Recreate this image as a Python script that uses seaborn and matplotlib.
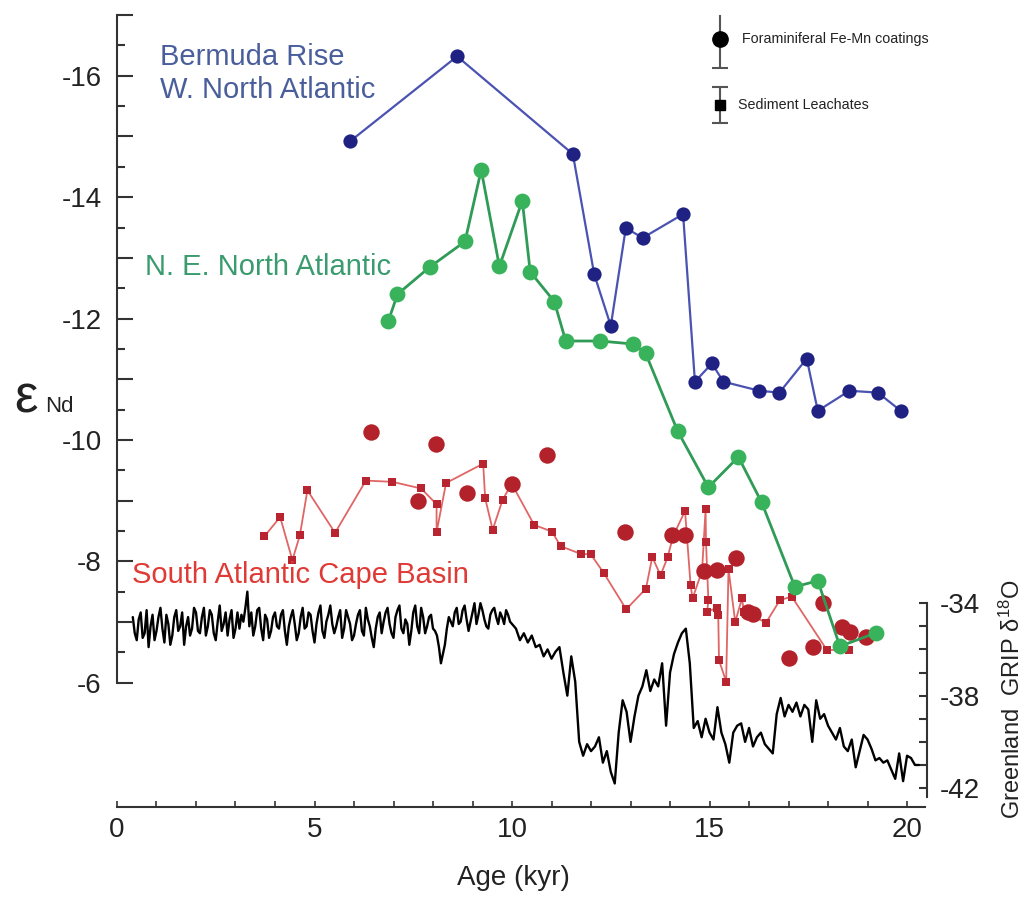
import numpy as np
import matplotlib
matplotlib.use("Agg")
import matplotlib.pyplot as plt
import seaborn as sns

# ---------------- data ----------------
bermuda_age = [5.90, 8.61, 11.54, 12.08, 12.50, 12.88, 13.31, 14.33, 14.63, 15.06,
               15.35, 16.26, 16.77, 17.46, 17.74, 18.54, 19.26, 19.84]
bermuda_end = [-14.92, -16.32, -14.71, -12.73, -11.88, -13.49, -13.33, -13.72, -10.96, -11.26,
               -10.96, -10.81, -10.78, -11.34, -10.48, -10.81, -10.78, -10.48]

ne_age = [6.87, 7.10, 7.92, 8.81, 9.22, 9.68, 10.26, 10.46, 11.07, 11.36, 12.23,
          13.07, 13.38, 14.19, 14.97, 15.73, 16.32, 17.16, 17.74, 18.30, 19.21]
ne_end = [-11.96, -12.40, -12.85, -13.27, -14.45, -12.86, -13.94, -12.77, -12.28, -11.63, -11.63,
          -11.58, -11.43, -10.15, -9.22, -9.72, -8.97, -7.58, -7.68, -6.60, -6.82]

fora_age = [6.42, 7.63, 8.08, 8.85, 9.99, 10.88, 12.86, 14.04, 14.38, 14.85,
            15.18, 15.67, 15.98, 16.11, 17.02, 17.63, 17.86, 18.35, 18.56, 18.96]
fora_end = [-10.13, -8.99, -9.94, -9.12, -9.28, -9.75, -8.48, -8.43, -8.43, -7.84,
            -7.86, -8.05, -7.17, -7.14, -6.41, -6.59, -7.31, -6.92, -6.84, -6.75]

leach_age = [3.73, 4.13, 4.44, 4.63, 4.82, 5.52, 6.30, 6.97, 7.70, 8.09,
             8.09, 8.33, 9.27, 9.32, 9.51, 9.76, 9.99, 10.56, 11.01, 11.23,
             11.75, 11.99, 12.33, 12.89, 13.39, 13.55, 13.76, 13.94, 14.08, 14.38,
             14.52, 14.57, 14.81, 14.90, 14.91, 14.97, 14.94, 15.18, 15.22, 15.24,
             15.42, 15.48, 15.65, 15.82, 15.87, 16.43, 16.78, 17.08, 17.97, 18.54]
leach_end = [-8.41, -8.73, -8.02, -8.43, -9.17, -8.47, -9.33, -9.31, -9.20, -8.94,
             -8.48, -9.29, -9.61, -9.04, -8.52, -9.01, -9.28, -8.60, -8.49, -8.25,
             -8.12, -8.12, -7.80, -7.21, -7.55, -8.07, -7.77, -8.07, -8.42, -8.83,
             -7.61, -7.39, -7.84, -8.86, -8.32, -7.36, -7.17, -7.23, -7.12, -6.37,
             -6.02, -7.87, -7.00, -7.39, -7.17, -6.99, -7.36, -7.42, -6.54, -6.54]

# GRIP d18O: Holocene part sampled every 0.05 kyr from 0.40 to 10.00 kyr
grip_holo_d18o = [
    # 0.40 - 2.00
    -34.6, -35.3, -35.6, -34.7, -34.4, -35.5, -35.3, -34.3, -35.9, -35.0,
    -34.5, -35.6, -35.2, -34.6, -34.2, -35.1, -35.7, -34.5, -34.9, -35.8,
    -35.4, -34.6, -34.3, -35.2, -35.0, -34.4, -35.8, -35.0, -34.6, -35.4,
    -35.1, -34.2, -34.4,
    # 2.05 - 4.00
    -35.2, -35.3, -34.6, -34.2, -35.4, -35.0, -34.3, -34.5, -35.3, -35.6,
    -34.8, -34.1, -35.2, -34.9, -34.4, -35.4, -34.7, -34.3, -35.5, -35.1,
    -34.4, -35.1, -34.5, -34.8, -34.2, -33.5, -35.0, -34.4, -35.4, -35.0,
    -34.3, -34.2, -35.1, -35.6, -34.5, -34.7, -35.5, -35.2, -34.6, -34.4,
    # 4.05 - 6.00
    -35.0, -35.1, -34.5, -34.3, -35.2, -35.8, -35.0, -34.6, -34.3, -34.9,
    -35.6, -35.3, -34.6, -34.2, -35.1, -35.0, -34.4, -34.5, -35.2, -35.7,
    -34.9, -34.4, -34.1, -35.2, -35.5, -34.8, -34.5, -34.1, -34.9, -35.3,
    -35.0, -34.6, -34.3, -35.5, -35.1, -34.3, -34.6, -34.9, -35.6, -35.4,
    # 6.05 - 8.00
    -34.9, -34.5, -34.3, -35.2, -35.4, -34.2, -34.7, -35.0, -35.5, -35.9,
    -35.1, -34.6, -34.4, -35.3, -34.8, -34.4, -34.2, -34.9, -35.3, -35.5,
    -34.6, -34.3, -34.1, -35.1, -35.3, -34.7, -34.9, -35.8, -35.2, -34.4,
    -34.1, -35.0, -35.3, -34.2, -34.6, -35.3, -35.0, -34.6, -34.5, -35.1,
    # 8.05 - 8.40 (8.2 ka event)
    -35.2, -35.4, -35.9, -36.6, -36.2, -35.8, -35.1, -34.6,
    # 8.45 - 9.60
    -34.8, -35.0, -34.4, -34.2, -34.9, -34.8, -34.3, -34.1, -34.7, -35.2,
    -34.8, -34.4, -34.0, -34.9, -34.5, -34.0, -34.3, -34.7, -35.0, -35.1,
    -34.5, -34.3, -34.2, -34.6,
    # 9.65 - 10.00
    -34.9, -34.4, -34.6, -34.9, -34.3, -34.5, -34.8, -34.9,
]
# GRIP d18O: deglacial / glacial part sampled every 0.1 kyr from 10.1 to 20.3 kyr
grip_glac_d18o = [
    # 10.1 - 10.9
    -35.1, -35.6, -35.3, -35.7, -35.4, -35.9, -35.8, -36.3, -36.0,
    # 11.0 - 11.9
    -36.4, -36.1, -35.9, -37.0, -38.0, -36.3, -37.4, -40.0, -40.6, -40.1,
    # 12.0 - 12.9
    -40.4, -40.2, -39.8, -40.9, -40.4, -41.3, -41.8, -39.6, -38.2, -38.7,
    # 13.0 - 13.9
    -40.0, -38.9, -38.0, -37.6, -36.9, -37.8, -37.3, -37.6, -36.6, -39.3,
    # 14.0 - 14.9
    -37.0, -36.2, -35.7, -35.3, -35.1, -36.6, -39.4, -39.1, -39.8, -39.0,
    # 15.0 - 15.9
    -39.6, -39.9, -38.5, -39.6, -40.1, -40.9, -39.6, -39.3, -39.2, -40.0,
    # 16.0 - 16.9
    -39.4, -40.2, -39.8, -39.6, -40.1, -40.3, -40.5, -38.8, -38.1, -38.9,
    # 17.0 - 17.9
    -38.4, -38.7, -38.3, -38.9, -38.4, -38.6, -40.0, -38.2, -39.0, -38.8,
    # 18.0 - 18.9
    -39.3, -39.6, -39.9, -39.4, -40.2, -40.4, -39.9, -41.1, -40.4, -39.7,
    # 19.0 - 19.9
    -39.9, -40.3, -40.8, -40.7, -40.9, -40.8, -41.2, -41.6, -40.5, -41.7,
    # 20.0 - 20.3
    -40.6, -40.7, -41.0, -41.0,
]
grip_holo_age = np.round(0.40 + 0.05 * np.arange(len(grip_holo_d18o)), 2)
grip_glac_age = np.round(10.1 + 0.1 * np.arange(len(grip_glac_d18o)), 2)
grip_age = np.concatenate([grip_holo_age, grip_glac_age])
grip_d18o = grip_holo_d18o + grip_glac_d18o

x_ticks = [0, 5, 10, 15, 20]
end_ticks = list(range(-17, -5))
end_labels = ["" if v % 2 else str(v) for v in end_ticks]
grip_ticks = list(range(-42, -33))
grip_labels = [str(v) if v in (-34, -38, -42) else "" for v in grip_ticks]

# ---------------- style ----------------
sns.set_style("white")
plt.rcParams["font.family"] = ["Liberation Sans", "DejaVu Sans"]
plt.rcParams["mathtext.fontset"] = "custom"
plt.rcParams["mathtext.rm"] = "Liberation Sans"
plt.rcParams["mathtext.it"] = "Liberation Sans:italic"

AX_COL = "#333333"
BLUE_LINE, BLUE_MK = "#4a52b2", "#1f2282"
GREEN_LINE, GREEN_MK = "#2f9b57", "#38b35c"
RED_LINE, RED_MK, RED_SQ = "#e06666", "#b3212a", "#b82530"

fig = plt.figure(figsize=(10.28, 8.97), dpi=100)
ax = fig.add_axes([0.1138, 0.1003, 0.788, 0.8829])
ax2 = ax.twinx()
ax.set_zorder(ax2.get_zorder() + 1)
ax.patch.set_visible(False)

# GRIP record (right axis)
sns.lineplot(x=grip_age, y=grip_d18o, ax=ax2, color="black", lw=1.7,
             estimator=None, sort=False)

# South Atlantic sediment leachates
sns.lineplot(x=leach_age, y=leach_end, ax=ax, color=RED_LINE, lw=1.3,
             estimator=None, sort=False, zorder=2)
sns.scatterplot(x=leach_age, y=leach_end, ax=ax, color=RED_SQ, marker="s",
                s=40, linewidth=0, zorder=3)
sns.scatterplot(x=fora_age, y=fora_end, ax=ax, color=RED_MK, marker="o",
                s=140, linewidth=0, zorder=4)

# NE North Atlantic
sns.lineplot(x=ne_age, y=ne_end, ax=ax, color=GREEN_LINE, lw=2.0,
             estimator=None, sort=False, zorder=5)
sns.scatterplot(x=ne_age, y=ne_end, ax=ax, color=GREEN_MK, marker="o",
                s=130, linewidth=0, zorder=6)

# Bermuda Rise
sns.lineplot(x=bermuda_age, y=bermuda_end, ax=ax, color=BLUE_LINE, lw=1.6,
             estimator=None, sort=False, zorder=7)
sns.scatterplot(x=bermuda_age, y=bermuda_end, ax=ax, color=BLUE_MK, marker="o",
                s=105, linewidth=0, zorder=8)

# ---------------- axes ----------------
ax.set_xlim(0, 20.506)
ax.set_ylim(-3.952, -17.0)
ax2.set_ylim(-42.82, -8.55)
ax.set_xlabel("")
ax.set_ylabel("")
ax2.set_xlabel("")
ax2.set_ylabel("")

for s in ["top", "right"]:
    ax.spines[s].set_visible(False)
for s in ["top", "left", "bottom"]:
    ax2.spines[s].set_visible(False)
ax.spines["left"].set_bounds(-17, -6)
ax.spines["bottom"].set_bounds(0, 20.45)
ax2.spines["right"].set_bounds(-42.4, -34)
for sp in [ax.spines["left"], ax.spines["bottom"], ax2.spines["right"]]:
    sp.set_color(AX_COL)
    sp.set_linewidth(1.5)

ax.set_yticks(end_ticks)
ax.set_yticklabels(end_labels)
ax.set_yticks(np.arange(-16.5, -6.0, 1.0), minor=True)
ax.set_xticks(x_ticks)
ax.set_xticklabels([str(v) for v in x_ticks])
ax.set_xticks(range(0, 21), minor=True)
ax.tick_params(axis="y", which="major", direction="in", length=11.5, width=1.5,
               pad=11, labelsize=20, color=AX_COL, labelcolor="#222222",
               left=True, right=False)
ax.tick_params(axis="y", which="minor", direction="in", length=5.5, width=1.5,
               color=AX_COL, left=True, right=False)
ax.tick_params(axis="x", which="both", direction="in", length=4, width=1.2,
               pad=7, labelsize=20, color=AX_COL, labelcolor="#222222",
               bottom=True, top=False)

ax2.set_yticks(grip_ticks)
ax2.set_yticklabels(grip_labels)
ax2.tick_params(axis="y", which="major", direction="in", length=6, width=1.5,
                pad=9, labelsize=20, color=AX_COL, labelcolor="#222222",
                right=True, left=False)

# ---------------- legend (error-bar key) ----------------
ax.errorbar([15.27], [-16.6], yerr=[0.48], fmt="o", color="black", ms=11,
            ecolor="#555555", elinewidth=1.5, capsize=5.5, capthick=1.5, zorder=9)
ax.errorbar([15.27], [-15.52], yerr=[0.30], fmt="s", color="black", ms=6.5,
            ecolor="#555555", elinewidth=1.5, capsize=5.5, capthick=1.5, zorder=9)
ax.text(15.82, -16.6, "Foraminiferal Fe-Mn coatings", fontsize=10.3,
        va="center", ha="left", color="#222222")
ax.text(15.72, -15.52, "Sediment Leachates", fontsize=10.3,
        va="center", ha="left", color="#222222")

# ---------------- series labels ----------------
ax.text(1.09, -16.18, "Bermuda Rise", fontsize=21, color="#4a5e9c",
        ha="left", va="baseline")
ax.text(1.09, -15.63, "W. North Atlantic", fontsize=21, color="#4a5e9c",
        ha="left", va="baseline")
ax.text(0.71, -12.72, "N. E. North Atlantic", fontsize=21, color="#3a9b6e",
        ha="left", va="baseline")
ax.text(0.38, -7.64, "South Atlantic Cape Basin", fontsize=21, color="#e03a36",
        ha="left", va="baseline")

# ---------------- axis titles ----------------
fig.text(513 / 1028, 1 - 885 / 897, "Age (kyr)", fontsize=20, ha="center",
         va="baseline", color="#222222")
fig.text(14 / 1028, 1 - 412 / 897, "\u03b5", fontsize=38, ha="left",
         va="baseline", color="#222222")
fig.text(45 / 1028, 1 - 412 / 897, "Nd", fontsize=16, ha="left",
         va="baseline", color="#222222")
fig.text(1012 / 1028, 1 - 699 / 897,
         r"Greenland  GRIP $\mathregular{\delta^{18}}$O", fontsize=17,
         rotation=90, ha="center", va="center", color="#222222")

fig.savefig("out.png", dpi=100)
